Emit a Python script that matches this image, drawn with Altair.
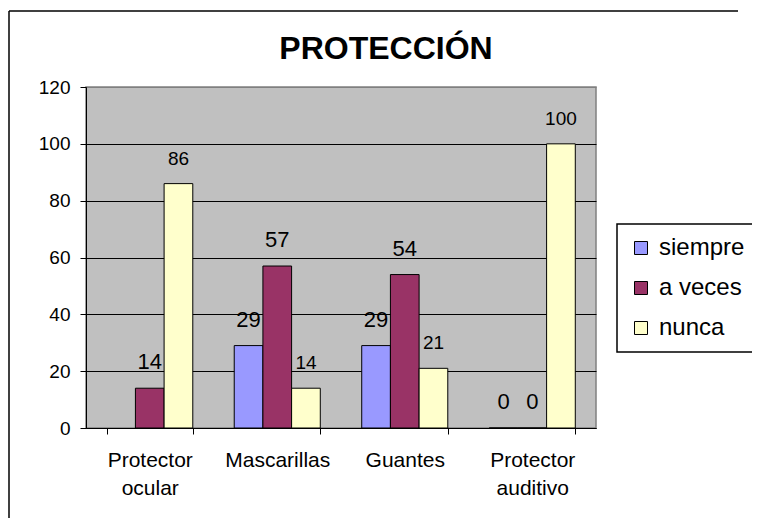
import altair as alt
import pandas as pd

categorias = ["Protector ocular", "Mascarillas", "Guantes", "Protector auditivo"]
series = ["siempre", "a veces", "nunca"]
siempre = [None, 29, 29, 0]
a_veces = [14, 57, 54, 0]
nunca = [86, 14, 21, 100]
colores = ["#9999FF", "#993366", "#FFFFCC"]
y_ticks = [0, 20, 40, 60, 80, 100, 120]

rows = []
for serie, vals in zip(series, [siempre, a_veces, nunca]):
    for cat, v in zip(categorias, vals):
        if v is not None:
            rows.append({"categoria": cat, "serie": serie, "valor": v})
df = pd.DataFrame(rows)

FONT = "Liberation Sans"

x = alt.X(
    "categoria:N",
    sort=categorias,
    scale=alt.Scale(paddingInner=0.325, paddingOuter=0.1625),
    axis=alt.Axis(
        title=None, labelAngle=0, tickBand="extent", grid=False,
        labelExpr="split(datum.label, ' ')", labelFontSize=21,
        labelLineHeight=28, labelPadding=15, tickSize=6,
        domainColor="black", tickColor="black", labelColor="black",
        labelFont=FONT,
    ),
)
xo = alt.XOffset("serie:N", sort=series, scale=alt.Scale(paddingInner=0, paddingOuter=0))
y = alt.Y(
    "valor:Q",
    scale=alt.Scale(domain=[0, 120], nice=False),
    axis=alt.Axis(
        title=None, values=y_ticks, grid=True,
        gridColor={"condition": {"test": "datum.value === 120", "value": "#808080"}, "value": "black"},
        gridWidth=1, labelFontSize=19, labelPadding=10, tickSize=6,
        domainColor="black", tickColor="black", labelColor="black", labelFont=FONT,
    ),
)

bars = alt.Chart(df).mark_bar(stroke="black", strokeWidth=1).encode(
    x=x, xOffset=xo, y=y,
    color=alt.Color(
        "serie:N", sort=series,
        scale=alt.Scale(domain=series, range=colores),
        legend=alt.Legend(
            title=None, orient="none", legendX=531, legendY=137,
            symbolType="square", symbolSize=169,
            symbolStrokeColor="black", symbolStrokeWidth=1,
            labelFontSize=24, labelFont=FONT, labelColor="black",
            labelOffset=6, rowPadding=16, padding=12,
            strokeColor="black", fillColor="white",
        ),
    ),
)

labels = alt.Chart(df).mark_text(
    font=FONT, color="black", baseline="alphabetic", dy=-19
).encode(
    x=x, xOffset=xo, y=y,
    text=alt.Text("valor:Q"),
    size=alt.condition(alt.datum.serie == "nunca", alt.value(19), alt.value(22)),
)

frame_data = alt.Data(values=[{}])
border_left = alt.Chart(frame_data).mark_rule(color="black", strokeWidth=1.5).encode(
    x=alt.value(-77), y=alt.value(-76), y2=alt.value(431)
)
border_top = alt.Chart(frame_data).mark_rule(color="black", strokeWidth=1.5).encode(
    x=alt.value(-77), x2=alt.value(652), y=alt.value(-76)
)

chart = alt.layer(border_left, border_top, bars, labels).properties(
    width=510,
    height=341,
    autosize=alt.AutoSizeParams(type="none"),
    padding={"left": 78, "top": 79, "right": 156, "bottom": 90},
    title=alt.TitleParams(
        "PROTECCIÓN", fontSize=32, fontWeight="bold", font=FONT,
        anchor="middle", frame="group", dx=45, offset=-81,
        baseline="alphabetic", color="black",
    ),
).configure(background="white").configure_view(
    fill="#C0C0C0", stroke="#808080", strokeWidth=1.5
).configure_legend(strokeWidth=1.5)

chart.save("out.html", embed_options={"renderer": "svg", "actions": False})
